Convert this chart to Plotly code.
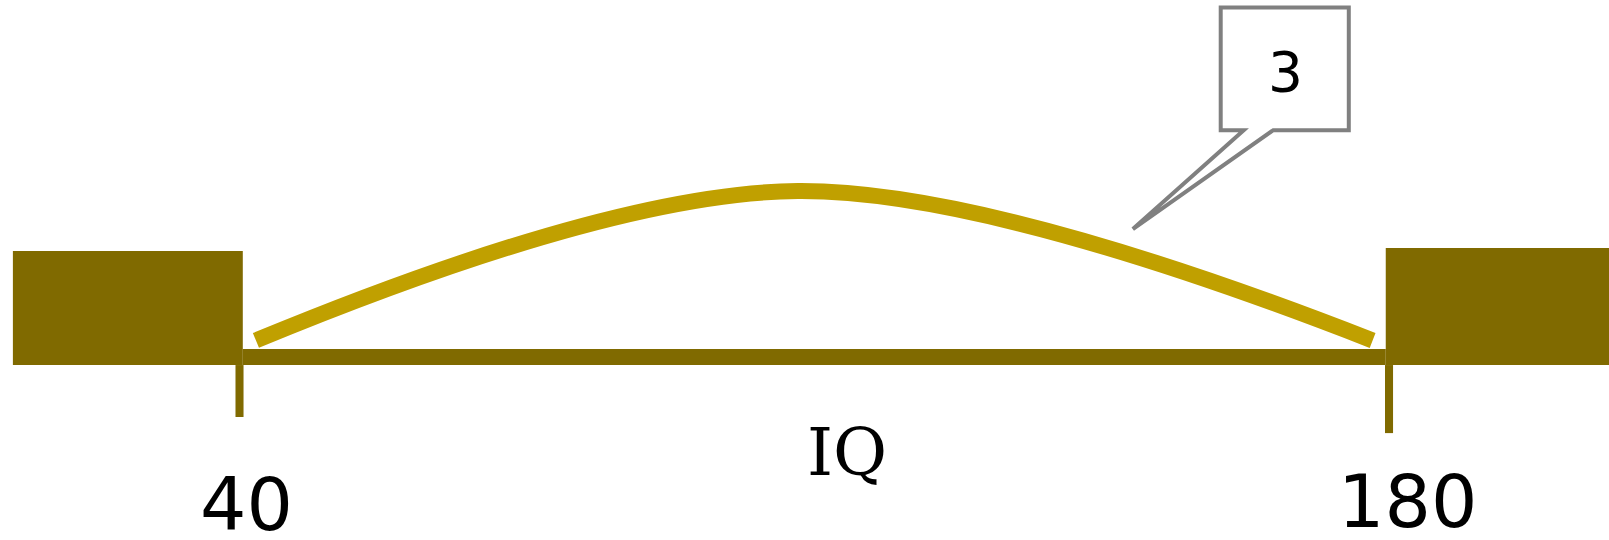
import plotly.graph_objects as go

# IQ distribution curve (relative frequency, peak = 1)
iq = [42, 108, 178]
freq = [0.10, 1.00, 0.10]

tick_vals = [40, 180]
tick_text = ["40", "180"]
axis_title = "IQ"
callout_text = "3"

DARK = "#806A00"
GOLD = "#C0A000"
GREY = "#808080"
SANS = "DejaVu Sans"
SERIF = "DejaVu Serif"

fig = go.Figure()
fig.add_trace(go.Scatter(
    x=iq, y=freq, mode="lines",
    line=dict(color=GOLD, width=16, shape="spline", smoothing=1.0),
    hoverinfo="skip", showlegend=False,
))

shapes = []
# shaded tails beyond the axis ends
shapes.append(dict(type="rect", xref="x", yref="y", x0=12.4, x1=40.4, y0=-0.048, y1=0.639,
                   fillcolor=DARK, line=dict(width=0), layer="below"))
shapes.append(dict(type="rect", xref="x", yref="y", x0=179.6, x1=215, y0=-0.048, y1=0.657,
                   fillcolor=DARK, line=dict(width=0), layer="below"))
# axis line
shapes.append(dict(type="rect", xref="x", yref="y", x0=40.4, x1=179.6, y0=-0.048, y1=0.048,
                   fillcolor=DARK, line=dict(width=0), layer="below"))
# tick marks
tick_bottoms = [-0.361, -0.458]
for tv, tb in zip(tick_vals, tick_bottoms):
    shapes.append(dict(type="rect", xref="x", yref="y", x0=tv - 0.49, x1=tv + 0.49,
                       y0=tb, y1=-0.048, fillcolor=DARK, line=dict(width=0), layer="below"))
# callout box with pointer
shapes.append(dict(
    type="path", xref="x", yref="y",
    path="M 159.5,1.367 L 159.5,2.106 L 175.1,2.106 L 175.1,1.367 L 165.9,1.367 "
         "L 148.8,0.771 L 162.3,1.367 Z",
    line=dict(color=GREY, width=4), fillcolor="rgba(0,0,0,0)",
))

annotations = []
label_pos = [(40.8, -0.889), (182.2, -0.873)]
for (lx, ly), txt in zip(label_pos, tick_text):
    annotations.append(dict(x=lx, y=ly, xref="x", yref="y", text=txt, showarrow=False,
                            xanchor="center", yanchor="middle",
                            font=dict(family=SANS, size=73, color="black")))
annotations.append(dict(x=113.95, y=-0.575, xref="x", yref="y", text=axis_title, showarrow=False,
                        xanchor="center", yanchor="middle",
                        font=dict(family=SERIF, size=66, color="black")))
annotations.append(dict(x=167.45, y=1.719, xref="x", yref="y", text=callout_text, showarrow=False,
                        xanchor="center", yanchor="middle",
                        font=dict(family=SANS, size=55, color="black")))

fig.update_layout(
    width=1609, height=540,
    margin=dict(l=0, r=0, t=0, b=0),
    paper_bgcolor="white", plot_bgcolor="white",
    xaxis=dict(range=[10.83, 206.79], visible=False, fixedrange=True),
    yaxis=dict(range=[-1.102, 2.151], visible=False, fixedrange=True),
    shapes=shapes, annotations=annotations,
    showlegend=False,
)

fig.write_html("out.html")
